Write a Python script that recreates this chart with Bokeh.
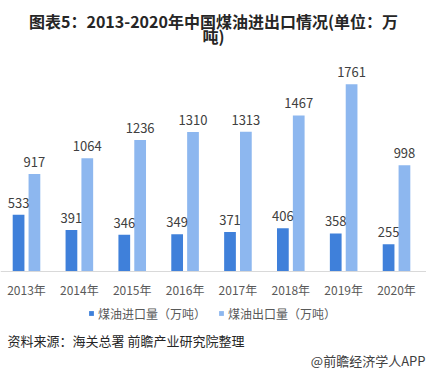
from bokeh.plotting import figure
from bokeh.models import (ColumnDataSource, Range1d, LabelSet, Label, Legend,
                          LegendItem, FixedTicker)
from bokeh.core.properties import value
from bokeh.embed import file_html
from bokeh.resources import INLINE
from bokeh.transform import dodge

years = ["2013年", "2014年", "2015年", "2016年", "2017年", "2018年", "2019年", "2020年"]
imports = [533, 391, 346, 349, 371, 406, 358, 255]
exports = [917, 1064, 1236, 1310, 1313, 1467, 1761, 998]

title1 = "图表5：2013-2020年中国煤油进出口情况(单位：万"
title2 = "吨)"
name_imp = "煤油进口量（万吨）"
name_exp = "煤油出口量（万吨）"
source_txt = "资料来源：海关总署 前瞻产业研究院整理"
brand_txt = "@前瞻经济学人APP"

FONT = "Noto Sans CJK SC"
C_IMP = "#3F80DA"
C_EXP = "#8DB7EF"

W, H = 426, 374
BASE = 271          # pixel row of the category axis
PX_PER_UNIT = 0.1064
PX_PER_CAT = 52.86
X0 = -26 / PX_PER_CAT
X1 = X0 + W / PX_PER_CAT
Y0 = -(H - BASE) / PX_PER_UNIT
Y1 = BASE / PX_PER_UNIT
OFF, BW = 0.15, 0.222


def dx(px):
    return X0 + px / PX_PER_CAT


def dy(py):
    return (BASE - py) / PX_PER_UNIT


src = ColumnDataSource(dict(
    x=list(range(len(years))),
    imp=imports, exp=exports,
    imp_t=[str(v) for v in imports], exp_t=[str(v) for v in exports],
))

p = figure(width=W, height=H, output_backend="svg", toolbar_location=None,
           x_range=Range1d(X0, X1), y_range=Range1d(Y0, Y1),
           min_border=0, min_border_left=0, min_border_right=0,
           min_border_top=0, min_border_bottom=0)
p.outline_line_color = None
p.grid.visible = False
p.yaxis.visible = False
p.background_fill_color = "white"
p.border_fill_color = "white"

r1 = p.vbar(x=dodge("x", -OFF), top="imp", width=BW, source=src,
            fill_color=C_IMP, line_color=None)
r2 = p.vbar(x=dodge("x", OFF), top="exp", width=BW, source=src,
            fill_color=C_EXP, line_color=None)

for col, off in (("imp", -OFF), ("exp", OFF)):
    p.add_layout(LabelSet(x=dodge("x", off), y=col, text=col + "_t", source=src,
                          text_align="center", text_baseline="bottom", y_offset=7,
                          text_font=value(FONT), text_font_size=value("13px"),
                          text_color="#404040"))

ax = p.xaxis[0]
ax.fixed_location = 0
ax.ticker = FixedTicker(ticks=list(range(len(years))))
ax.major_label_overrides = {i: y for i, y in enumerate(years)}
ax.axis_line_color = "#d9d9d9"
ax.major_tick_line_color = None
ax.minor_tick_line_color = None
ax.major_tick_out = 0
ax.major_tick_in = 0
ax.minor_tick_out = 0
ax.major_label_standoff = 9
ax.major_label_text_font = FONT
ax.major_label_text_font_size = "12px"
ax.major_label_text_color = "#595959"

xmid = (X0 + X1) / 2
for txt, py in ((title1, 20), (title2, 35)):
    p.add_layout(Label(x=xmid, y=dy(py), text=txt, text_align="center",
                       text_baseline="middle", text_font=FONT,
                       text_font_size="16px", text_font_style="bold",
                       text_color="#262626"))

p.add_layout(Label(x=dx(7), y=dy(340), text=source_txt, text_align="left",
                   text_baseline="middle", text_font=FONT,
                   text_font_size="13px", text_color="#262626"))
p.add_layout(Label(x=dx(425), y=dy(360), text=brand_txt, text_align="right",
                   text_baseline="middle", text_font=FONT,
                   text_font_size="13px", text_color="#404040"))

legend = Legend(items=[LegendItem(label=name_imp, renderers=[r1]),
                       LegendItem(label=name_exp, renderers=[r2])],
                location=(88, 51), orientation="horizontal",
                glyph_width=6, glyph_height=6, label_standoff=4, spacing=12,
                label_height=20, padding=0, margin=0, border_line_color=None,
                background_fill_alpha=0,
                label_text_font=FONT, label_text_font_size="12px",
                label_text_color="#595959")
p.add_layout(legend, "center")

open("out.html", "w").write(file_html(p, INLINE))
